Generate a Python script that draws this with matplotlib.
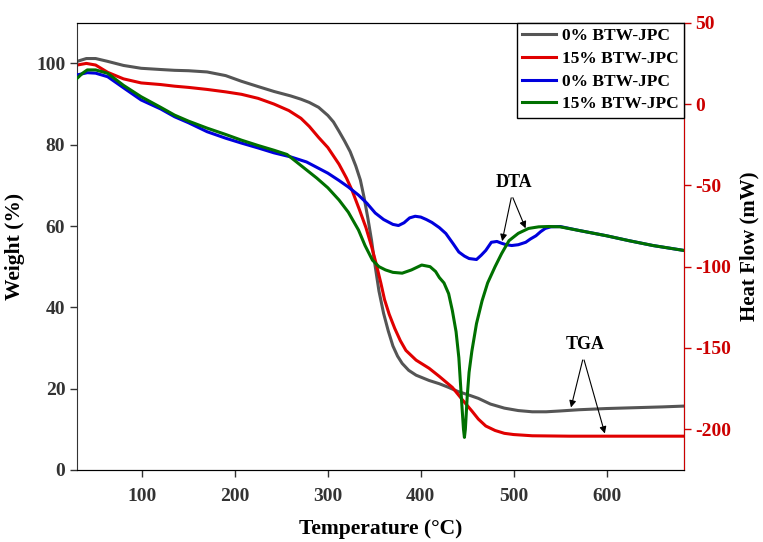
import matplotlib
matplotlib.use("Agg")
import matplotlib.pyplot as plt

plt.rcParams["font.family"] = ["Liberation Serif", "DejaVu Serif"]
plt.rcParams["font.weight"] = "bold"
plt.rcParams["axes.unicode_minus"] = False

# TGA, 0% BTW-JPC (weight %)
t_tga0 = [30, 40, 50, 63, 80, 99, 120, 135, 150, 170, 190, 207, 225, 242, 260, 271,
          280, 290, 300, 306, 312, 318, 324, 330, 335, 339, 343, 347, 350, 355, 360, 365,
          370, 375, 380, 387, 395, 409, 420, 430, 440, 452, 462, 475, 490, 505, 520,
          535, 550, 570, 600, 630, 660, 683]
w_tga0 = [100.5, 101.2, 101.2, 100.5, 99.5, 98.8, 98.5, 98.3, 98.2, 97.9, 97.0, 95.6,
          94.3, 93.1, 92.0, 91.2, 90.4, 89.2, 87.2, 85.6, 83.3, 80.9, 78.3, 74.8, 71.3,
          67.0, 62.0, 56.5, 51.5, 44.0, 38.5, 34.2, 30.5, 28.0, 26.2, 24.5, 23.3, 22.0,
          21.2, 20.3, 19.3, 18.4, 17.6, 16.2, 15.2, 14.6, 14.3, 14.3, 14.5, 14.8, 15.1,
          15.3, 15.5, 15.7]

# TGA, 15% BTW-JPC (weight %)
t_tga15 = [30, 40, 50, 63, 80, 99, 120, 135, 150, 170, 190, 207, 225, 242, 258, 271,
           280, 290, 300, 312, 320, 326, 334, 341, 347, 352, 357, 361, 366, 372, 378,
           384, 395, 409, 420, 434, 445, 455, 462, 470, 480, 490, 500, 520, 560, 620, 683]
w_tga15 = [99.6, 100.0, 99.6, 97.8, 96.2, 95.2, 94.8, 94.4, 94.1, 93.6, 93.0, 92.4,
           91.4, 90.0, 88.4, 86.5, 84.5, 81.8, 79.3, 75.2, 71.8, 68.8, 64.0, 59.6, 55.0,
           50.7, 46.0, 41.9, 38.3, 34.8, 31.8, 29.4, 27.0, 25.0, 23.0, 20.3, 17.2, 14.5,
           12.5, 10.8, 9.7, 9.0, 8.7, 8.4, 8.3, 8.3, 8.3]

# DTA, 0% BTW-JPC (heat flow mW)
t_dta0 = [30, 41, 50, 63, 80, 99, 120, 135, 150, 170, 190, 207, 225, 242, 260, 277,
          290, 300, 312, 322, 333, 342, 351, 360, 370, 376, 382, 388, 394, 400, 406,
          412, 420, 427, 435, 441, 447, 452, 460, 465, 470, 476, 482, 487, 492, 498,
          505, 513, 518, 524, 529, 534, 540, 550, 570, 600, 624, 650, 683]
h_dta0 = [17.9, 19.3, 19.0, 16.8, 10.0, 2.5, -3.0, -7.8, -11.5, -17.0, -21.0, -24.0,
          -27.0, -30.0, -32.5, -35.6, -39.5, -42.5, -47.0, -51.0, -56.0, -61.0, -67.0,
          -71.0, -74.0, -74.7, -73.0, -70.0, -69.0, -69.5, -71.0, -72.8, -76.0, -79.6,
          -86.0, -91.0, -93.5, -95.0, -95.6, -93.0, -90.0, -85.0, -84.5, -85.6, -86.5,
          -87.0, -86.5, -85.0, -83.0, -81.0, -78.5, -76.5, -75.5, -75.3, -77.7, -81.0,
          -84.0, -87.0, -90.0]

# DTA, 15% BTW-JPC (heat flow mW)
t_dta15 = [30, 36, 41, 50, 63, 80, 99, 120, 135, 150, 170, 190, 207, 225, 242, 256,
           266, 277, 288, 300, 312, 322, 333, 340, 348, 355, 362, 370, 380, 390,
           401, 410, 416, 420, 425, 430, 434, 438, 441, 444, 446, 447, 448, 450, 452,
           455, 460, 466, 472, 480, 487, 495, 505, 516, 527, 538, 550, 570, 600, 624,
           650, 683]
h_dta15 = [15.8, 19.0, 21.0, 21.0, 18.9, 11.5, 4.5, -2.0, -6.8, -10.5, -14.8, -18.7,
           -22.2, -25.5, -28.4, -31.0, -35.5, -40.5, -45.5, -51.5, -59.0, -66.5,
           -77.5, -87.0, -96.0, -100.0, -102.0, -103.5, -104.0, -102.0, -99.0, -100.0,
           -103.0, -106.7, -110.0, -116.6, -127.0, -140.0, -156.0, -183.0, -200.0,
           -205.0, -200.0, -180.0, -165.0, -152.0, -135.0, -121.0, -110.0, -100.0,
           -92.0, -84.0, -79.5, -76.5, -75.5, -75.3, -75.5, -77.7, -81.0, -84.0, -87.0,
           -90.0]

labels = ["0% BTW-JPC", "15% BTW-JPC", "0% BTW-JPC", "15% BTW-JPC"]

fig = plt.figure(figsize=(7.63, 5.42), dpi=100)
ax = fig.add_axes([0.101, 0.133, 0.795, 0.825])
ax2 = ax.twinx()

l1, = ax.plot(t_tga0, w_tga0, color="#555555", lw=2.2)
l2, = ax.plot(t_tga15, w_tga15, color="#e00000", lw=2.2)
l3, = ax2.plot(t_dta0, h_dta0, color="#0000dd", lw=2.2)
l4, = ax2.plot(t_dta15, h_dta15, color="#007000", lw=2.2)

ax.set_xlim(30, 683)
ax.set_ylim(0, 110)
ax2.set_ylim(-225, 50)
ax.set_xticks([100, 200, 300, 400, 500, 600])
ax.set_yticks([0, 20, 40, 60, 80, 100])
ax2.set_yticks([-200, -150, -100, -50, 0, 50])

ax.tick_params(axis="both", labelsize=14, length=5, width=1, colors="#333333")
ax.tick_params(axis="x", pad=8)
ax2.tick_params(axis="y", labelsize=14, length=5, width=1, colors="#cc0000")
for lab in ax.get_xticklabels() + ax.get_yticklabels() + ax2.get_yticklabels():
    lab.set_fontweight("bold")

ax.spines["left"].set_color("#333333")
ax.spines["bottom"].set_color("#333333")
ax.spines["top"].set_color("black")
ax2.spines["right"].set_color("#cc0000")
ax2.spines["left"].set_visible(False)

ax.set_xlabel("Temperature (°C)", fontsize=15.5, fontweight="bold", labelpad=10)
ax.set_ylabel("Weight (%)", fontsize=15.5, fontweight="bold", labelpad=8)
ax2.set_ylabel("Heat Flow (mW)", fontsize=15, fontweight="bold", labelpad=6)

ax2.annotate("", xy=(487, -86), xytext=(498, -56),
             arrowprops=dict(arrowstyle="-|>", color="black", lw=0.8, mutation_scale=10))
ax2.annotate("", xy=(514, -78), xytext=(498, -56),
             arrowprops=dict(arrowstyle="-|>", color="black", lw=0.8, mutation_scale=10))
ax2.text(500, -48, "DTA", ha="center", va="center", fontsize=13, fontweight="bold")

ax.annotate("", xy=(561, 14.7), xytext=(575, 27.7),
            arrowprops=dict(arrowstyle="-|>", color="black", lw=0.8, mutation_scale=10))
ax.annotate("", xy=(599, 8.3), xytext=(575, 27.7),
            arrowprops=dict(arrowstyle="-|>", color="black", lw=0.8, mutation_scale=10))
ax.text(577, 30.8, "TGA", ha="center", va="center", fontsize=13, fontweight="bold")

leg = ax2.legend([l1, l2, l3, l4], labels, loc="upper right", borderaxespad=0,
                 fancybox=False, edgecolor="black", framealpha=1,
                 prop={"size": 12.5, "weight": "bold"}, handlelength=2.0,
                 handletextpad=0.3, labelspacing=0.38, borderpad=0.3)
leg.get_frame().set_linewidth(1)

plt.savefig("out.png", dpi=100)
print("out.png created")
